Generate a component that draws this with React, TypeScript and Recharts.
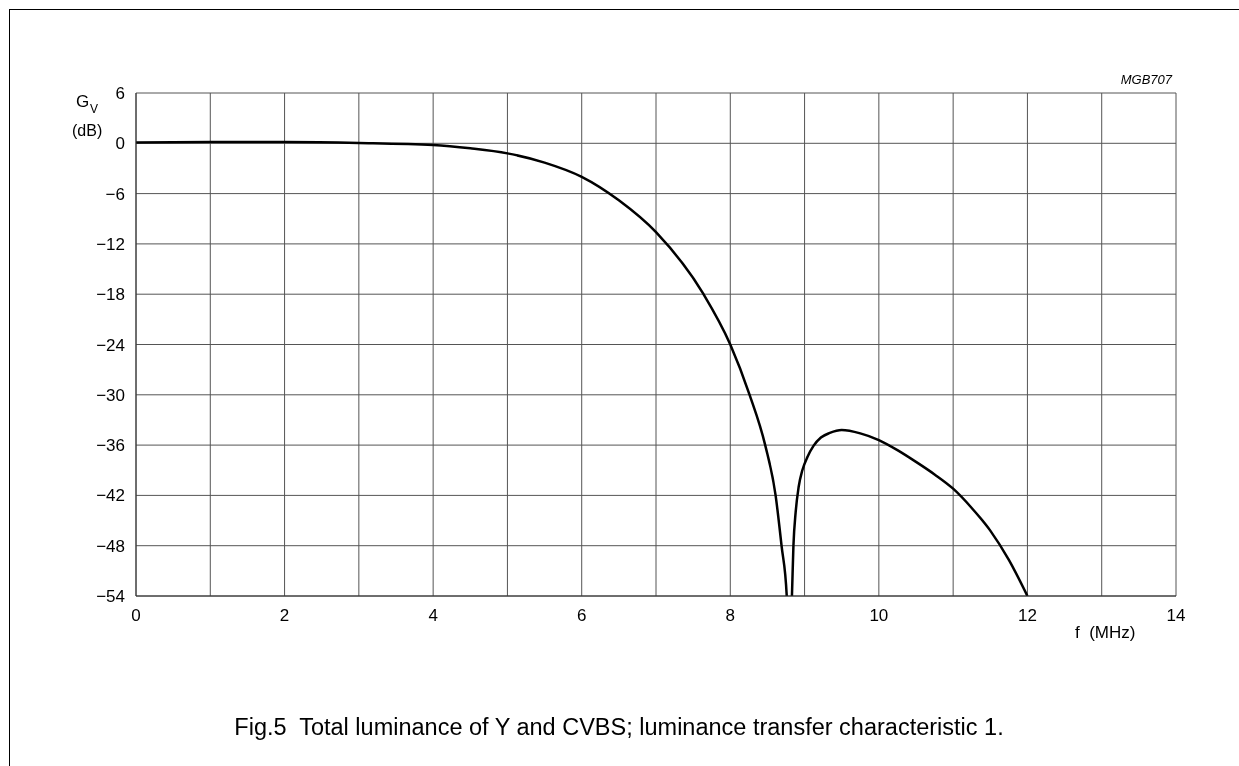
import React from "react";
import {
  LineChart,
  Line,
  XAxis,
  YAxis,
  CartesianGrid,
} from "recharts";

// frequency (MHz) and gain (dB)
const freqMHz = [
  0, 1, 2, 3, 4, 4.5, 5, 5.5, 6, 6.5, 7, 7.64, 8, 8.26, 8.47, 8.61, 8.69,
  8.76, 8.795, 8.83, 8.85, 8.88, 8.92, 8.97, 9.04, 9.12, 9.22, 9.34, 9.5,
  9.75, 10, 10.25, 10.5, 10.75, 11, 11.25, 11.5, 11.75, 12,
];
const gainDb = [
  0.1, 0.15, 0.15, 0.05, -0.2, -0.6, -1.2, -2.3, -4.0, -6.8, -10.6, -18,
  -24, -30, -36, -42, -48, -54, -62, -54, -48, -44, -41, -39, -37.4, -36.1,
  -35.1, -34.55, -34.2, -34.6, -35.4, -36.6, -38.0, -39.5, -41.2, -43.5,
  -46.2, -49.7, -54,
];

const xTicks = [0, 1, 2, 3, 4, 5, 6, 7, 8, 9, 10, 11, 12, 13, 14];
const yTicks = [6, 0, -6, -12, -18, -24, -30, -36, -42, -48, -54];

const data = freqMHz.map((f, i) => ({ f, gain: gainDb[i] }));

const FONT = "'Liberation Sans', Arial, sans-serif";

export default function App() {
  return (
    <div
      style={{
        position: "relative",
        width: 1223,
        height: 750,
        fontFamily: FONT,
      }}
    >
      {/* page frame, cut off at right and bottom */}
      <div
        style={{
          position: "fixed",
          left: 9,
          top: 9,
          width: 1300,
          height: 900,
          borderLeft: "1px solid #000",
          borderTop: "1px solid #000",
        }}
      />
      <div style={{ position: "absolute", left: 0, top: 0 }}>
        <LineChart
          width={1223}
          height={700}
          data={data}
          margin={{ top: 85, right: 55, left: 88, bottom: 82 }}
        >
          <CartesianGrid stroke="#555" strokeWidth={1} />
          <XAxis
            dataKey="f"
            type="number"
            domain={[0, 14]}
            ticks={xTicks}
            interval={0}
            height={30}
            tickSize={0}
            tickMargin={13}
            axisLine={{ stroke: "#333" }}
            tick={{ fill: "#000", fontSize: 17, fontFamily: FONT }}
            tickFormatter={(v) => (v % 2 === 0 ? `${v}` : "")}
          />
          <YAxis
            type="number"
            domain={[-54, 6]}
            ticks={yTicks}
            interval={0}
            allowDataOverflow
            width={40}
            tickSize={0}
            tickMargin={11}
            axisLine={{ stroke: "#333" }}
            tick={{ fill: "#000", fontSize: 17, fontFamily: FONT }}
            tickFormatter={(v) => (v < 0 ? `\u2212${Math.abs(v)}` : `${v}`)}
          />
          <Line
            type="monotone"
            dataKey="gain"
            stroke="#000"
            strokeWidth={2.5}
            dot={false}
            activeDot={false}
            isAnimationActive={false}
          />
        </LineChart>
      </div>
      <svg
        width={1223}
        height={750}
        style={{ position: "absolute", left: 0, top: 0, pointerEvents: "none" }}
        fontFamily={FONT}
      >
        <text x={68} y={99} fontSize={17} fill="#000">
          G
        </text>
        <text x={82} y={105} fontSize={12} fill="#000">
          V
        </text>
        <text x={64} y={128} fontSize={16} fill="#000">
          (dB)
        </text>
        <text
          x={1164}
          y={76}
          fontSize={13}
          fontStyle="italic"
          textAnchor="end"
          fill="#000"
        >
          MGB707
        </text>
        <text x={1067} y={630} fontSize={17} fill="#000" style={{ whiteSpace: "pre" }}>
          {"f  (MHz)"}
        </text>
        <text x={611} y={727} fontSize={23.5} textAnchor="middle" fill="#000" style={{ whiteSpace: "pre" }}>
          {"Fig.5  Total luminance of Y and CVBS; luminance transfer characteristic 1."}
        </text>
      </svg>
    </div>
  );
}
